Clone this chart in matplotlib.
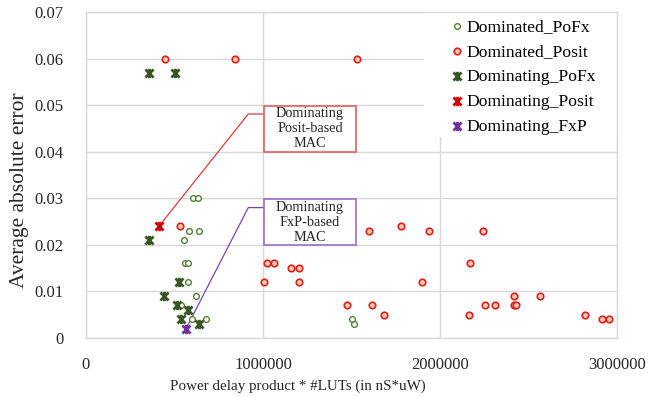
import matplotlib
matplotlib.use("Agg")
import matplotlib.pyplot as plt
from matplotlib.path import Path
from matplotlib.patches import Rectangle

# values (x in nS*uW, y = average absolute error)
dominated_pofx_x = [606000, 633000, 584000, 640000, 555000, 561000, 576000, 578000,
                    621000, 535000, 601000, 678000, 1503000, 1512000]
dominated_pofx_y = [0.030, 0.030, 0.023, 0.023, 0.021, 0.016, 0.016, 0.012,
                    0.009, 0.007, 0.004, 0.004, 0.004, 0.003]

dominated_posit_x = [446000, 842000, 1533000, 531000, 1597000, 1780000, 1938000, 2241000,
                     1023000, 1064000, 2168000, 1156000, 1203000, 1004000, 1205000, 1900000,
                     2418000, 2563000, 1476000, 1618000, 2254000, 2311000, 2416000, 2429000,
                     1684000, 2162000, 2821000, 2913000, 2953000]
dominated_posit_y = [0.060, 0.060, 0.060, 0.024, 0.023, 0.024, 0.023, 0.023,
                     0.016, 0.016, 0.016, 0.015, 0.015, 0.012, 0.012, 0.012,
                     0.009, 0.009, 0.007, 0.007, 0.007, 0.007, 0.007, 0.007,
                     0.005, 0.005, 0.005, 0.004, 0.004]

dominating_pofx_x = [356000, 503000, 358000, 527000, 441000, 512000, 574000, 535000, 640000]
dominating_pofx_y = [0.057, 0.057, 0.021, 0.012, 0.009, 0.007, 0.006, 0.004, 0.003]

dominating_posit_x = [412000]
dominating_posit_y = [0.024]

dominating_fxp_x = [565000]
dominating_fxp_y = [0.002]

x_ticks = [0, 1000000, 2000000, 3000000]
y_ticks = [0, 0.01, 0.02, 0.03, 0.04, 0.05, 0.06, 0.07]
y_labels = ["0", "0.01", "0.02", "0.03", "0.04", "0.05", "0.06", "0.07"]

plt.rcParams["font.family"] = ["Liberation Serif", "DejaVu Serif"]

# Excel style "star" marker: an x with a vertical bar
star = Path([(-1, -1), (1, 1), (-1, 1), (1, -1), (0, -1.15), (0, 1.15)],
            [Path.MOVETO, Path.LINETO, Path.MOVETO, Path.LINETO, Path.MOVETO, Path.LINETO])

fig = plt.figure(figsize=(6.68, 3.97), dpi=100)
ax = fig.add_axes([86 / 668, 1 - 338 / 397, 531 / 668, 326 / 397])

grid_c = "#d9d9d9"
txt_c = "#262626"
ax.set_xlim(0, 3000000)
ax.set_ylim(0, 0.07)
ax.set_xticks(x_ticks)
ax.set_xticklabels([str(t) for t in x_ticks])
ax.set_yticks(y_ticks)
ax.set_yticklabels(y_labels)
ax.grid(True, color=grid_c, linewidth=1)
ax.set_axisbelow(True)
for s in ax.spines.values():
    s.set_color(grid_c)
    s.set_linewidth(1)
    s.set_zorder(8)
ax.tick_params(length=0, labelsize=12, colors=txt_c)
ax.tick_params(axis="x", pad=14)
ax.tick_params(axis="y", pad=16)

# white patch behind the legend hides the grid there
ax.add_patch(Rectangle((0.6365, 0.6166), 0.3635, 0.3834, transform=ax.transAxes,
                       facecolor="white", edgecolor="none", zorder=1))

ax.scatter(dominated_pofx_x, dominated_pofx_y, s=17, facecolor="white",
           edgecolor="#548235", linewidth=1, label="Dominated_PoFx", zorder=3)
ax.scatter(dominated_posit_x, dominated_posit_y, s=22, facecolor="#f8cbad",
           edgecolor="#e01e1e", linewidth=1.2, label="Dominated_Posit", zorder=3)
ax.scatter(dominating_pofx_x, dominating_pofx_y, s=45, marker=star, color="#375623",
           linewidth=2, label="Dominating_PoFx", zorder=4)
ax.scatter(dominating_posit_x, dominating_posit_y, s=45, marker=star, color="#d00000",
           linewidth=2, label="Dominating_Posit", zorder=4)
ax.scatter(dominating_fxp_x, dominating_fxp_y, s=45, marker=star, color="#7030a0",
           linewidth=2, label="Dominating_FxP", zorder=4)

# callout boxes with leader lines
callouts = [
    ("Dominating\nPosit-based\nMAC", 0.040, 0.0481, dominating_posit_x[0], dominating_posit_y[0],
     "#e06060", "#e03a3a"),
    ("Dominating\nFxP-based\nMAC", 0.020, 0.0280, dominating_fxp_x[0], dominating_fxp_y[0],
     "#9b6fc6", "#8040b8"),
]
box_x0, box_w, box_h, elbow_x = 1003000, 525000, 0.0098, 917000
for txt, y0, ly, px, py, ec, lc in callouts:
    ax.add_patch(Rectangle((box_x0, y0), box_w, box_h, facecolor="white",
                           edgecolor=ec, linewidth=1.2, zorder=5))
    ax.text(box_x0 + box_w / 2, y0 + box_h / 2, txt, ha="center", va="center",
            fontsize=10.3, linespacing=1.2, color=txt_c, zorder=6)
    ax.plot([box_x0, elbow_x, px], [ly, ly, py], color=lc, linewidth=0.9, zorder=2)

ax.set_xlabel("Power delay product * #LUTs (in nS*uW)", fontsize=10.8, color=txt_c)
ax.xaxis.set_label_coords(0.398, -0.128)
ax.set_ylabel("Average absolute error", fontsize=15.5, color=txt_c)
ax.yaxis.set_label_coords(-0.107, 0.454)

leg = ax.legend(loc="upper left", bbox_to_anchor=(0.6855, 0.98), fontsize=12.6,
                frameon=False, handletextpad=0.15, labelspacing=0.5, borderpad=0,
                handlelength=0.8, borderaxespad=0)
leg.set_zorder(7)

fig.savefig("out.png", dpi=100)
